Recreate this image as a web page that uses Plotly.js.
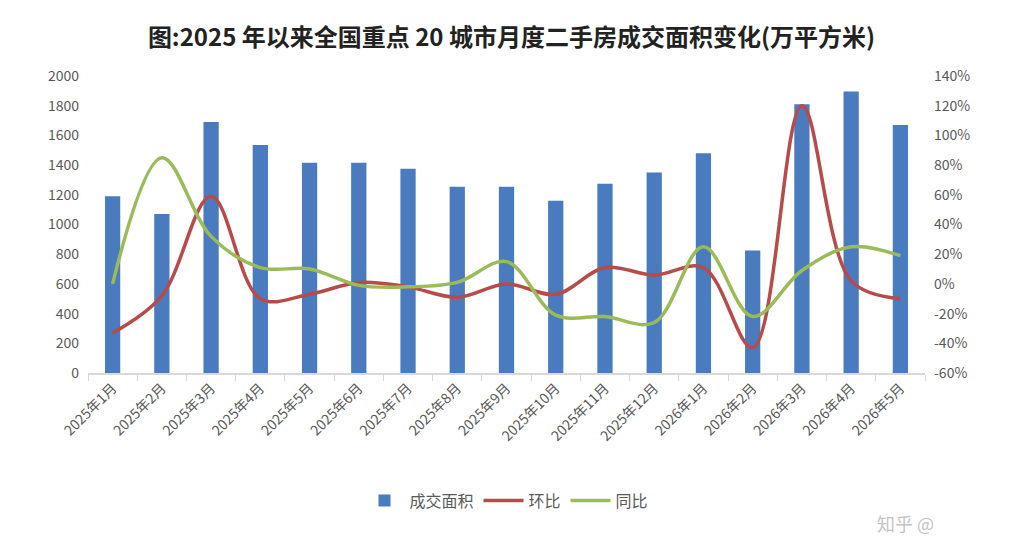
<!DOCTYPE html>
<html>
<head>
<meta charset="utf-8">
<script src="https://cdn.plot.ly/plotly-3.0.1.min.js"></script>
<style>html,body{margin:0;padding:0;background:#fff;}#chart{width:1023px;height:540px;}</style>
</head>
<body>
<div id="chart"></div>
<script>
const months = ['2025年1月','2025年2月','2025年3月','2025年4月','2025年5月','2025年6月','2025年7月','2025年8月','2025年9月','2025年10月','2025年11月','2025年12月','2026年1月','2026年2月','2026年3月','2026年4月','2026年5月'];
const area = [1190,1070,1690,1535,1415,1415,1375,1255,1255,1160,1275,1350,1480,825,1810,1895,1670];
const mom = [-33,-8,59,-10,-7,1,-2,-9,0,-7,11,6,11,-43,120,2,-10];
const yoy = [0,85,32,11,10,-1,-2,1,15,-21,-22,-26,25,-22,9,25,19];
const leftTicks = [0,200,400,600,800,1000,1200,1400,1600,1800,2000];
const rightTicks = [-60,-40,-20,0,20,40,60,80,100,120,140];

const font = '"Noto Sans CJK SC", "Noto Sans", sans-serif';
const gray = '#595959';

const traces = [
  {type:'bar', name:'成交面积', x:months, y:area, marker:{color:'#4a7bbf'}, width:0.31},
  {type:'scatter', mode:'lines', name:'环比', x:months, y:mom, yaxis:'y2',
   line:{color:'#b84a4a', width:3.5, shape:'spline', smoothing:1}},
  {type:'scatter', mode:'lines', name:'同比', x:months, y:yoy, yaxis:'y2',
   line:{color:'#9bbb59', width:3.5, shape:'spline', smoothing:1}}
];

const layout = {
  width:1023, height:540,
  margin:{l:88, r:98, t:76, b:167},
  paper_bgcolor:'#fff', plot_bgcolor:'#fff',
  font:{family:font, color:gray, size:14},
  title:{text:'<b>图:2025 年以来全国重点 20 城市月度二手房成交面积变化(万平方米)</b>',
         font:{family:font, size:24, color:'#222'}, x:0.5, xanchor:'center', y:0.93, yanchor:'middle'},
  showlegend:true,
  legend:{orientation:'h', x:0.5, xanchor:'center', y:-0.43, yanchor:'middle',
          font:{family:font, size:16, color:gray}, itemwidth:40, tracegroupgap:0},
  xaxis:{type:'category', showline:true, linecolor:'#d9d9d9', linewidth:1.5,
         ticks:'outside', tickson:'boundaries', ticklen:6, tickcolor:'#d9d9d9',
         showgrid:false, tickangle:-45, tickfont:{family:font, size:14, color:gray},
         range:[-0.5, 16.5], fixedrange:true},
  yaxis:{range:[0,2000], tickvals:leftTicks, showgrid:false, zeroline:false, showline:false,
         ticks:'', tickfont:{size:14, color:gray}, ticklabelstandoff:8},
  yaxis2:{range:[-60,140], tickvals:rightTicks, ticktext:rightTicks.map(v=>v+'%'),
          overlaying:'y', side:'right', showgrid:false, zeroline:false, showline:false,
          ticks:'', tickfont:{size:14, color:gray}, ticklabelstandoff:8},
  annotations:[
    {text:'知乎 @', xref:'paper', yref:'paper', x:0.94, y:-0.505, xanchor:'left', yanchor:'middle',
     showarrow:false, font:{family:font, size:18, color:'#c4c4c4'}}
  ]
};

Plotly.newPlot('chart', traces, layout, {displayModeBar:false, staticPlot:true});
</script>
</body>
</html>
